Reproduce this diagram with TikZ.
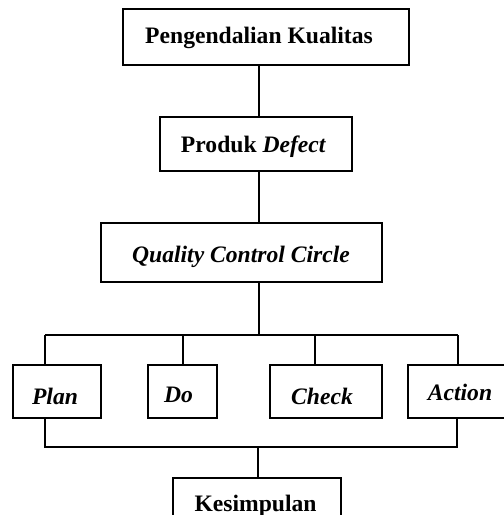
\documentclass[tikz,border=0pt]{standalone}
\usepackage{fontspec}
\setmainfont{Liberation Serif}
\begin{document}
\begin{tikzpicture}[x=0.75pt,y=-0.75pt,
  box/.style={draw,line width=1.8pt,inner sep=0pt,rectangle},
  lbl/.style={anchor=base,inner sep=0pt,font=\fontsize{17.7pt}{20pt}\selectfont\bfseries},
  conn/.style={line width=0.8pt}]
\useasboundingbox (0,0) rectangle (504,515);
% boxes
\node[box,minimum width=214.5pt,minimum height=42pt] (top) at (266,37) {};
\node[box,minimum width=144pt,minimum height=40.5pt] (prod) at (256,144) {};
\node[box,minimum width=210.75pt,minimum height=44.25pt] (qcc) at (241.5,252.5) {};
\node[box,minimum width=66pt,minimum height=39.75pt] (plan) at (57,391.5) {};
\node[box,minimum width=51.75pt,minimum height=39.75pt] (do) at (182.5,391.5) {};
\node[box,minimum width=84pt,minimum height=39.75pt] (check) at (326,391.5) {};
\node[box,minimum width=81pt,minimum height=39.75pt] (action) at (462,391.5) {};
\node[box,minimum width=126pt,minimum height=46.5pt] (kes) at (257,509) {};
% texts
\node[lbl] (ttop) at (259,43) {Pengendalian Kualitas};
\node[lbl] (tprod) at (253.5,152) {Produk \textit{Defect}};
\node[lbl] (tqcc) at (241,262) {\textit{Quality Control Circle}};
\node[lbl] (tplan) at (55,404) {\textit{Plan}};
\node[lbl] (tdo) at (178.5,402) {\textit{Do}};
\node[lbl] (tcheck) at (322,404) {\textit{Check}};
\node[lbl] (taction) at (460,400) {\textit{Action}};
\node[lbl] (tkes) at (255.5,511) {Kesimpulan};
% junctions
\coordinate (jt) at (259,335);
\coordinate (hl) at (45,335);
\coordinate (hd) at (183,335);
\coordinate (hc) at (315,335);
\coordinate (hr) at (458,335);
\coordinate (bl) at (45,447);
\coordinate (br) at (457,447);
\coordinate (bj) at (258,447);
% connectors
\draw[conn] (top.south -| jt) -- (prod.north -| jt);
\draw[conn] (prod.south -| jt) -- (qcc.north -| jt);
\draw[conn] (qcc.south -| jt) -- (jt);
\draw[conn] (hl) -- (hr);
\draw[conn] (hl) -- (plan.north -| hl);
\draw[conn] (hd) -- (do.north -| hd);
\draw[conn] (hc) -- (check.north -| hc);
\draw[conn] (hr) -- (action.north -| hr);
\draw[conn] (plan.south -| bl) -- (bl) -- (br) -- (action.south -| br);
\draw[conn] (bj) -- (kes.north -| bj);
\end{tikzpicture}
\end{document}
